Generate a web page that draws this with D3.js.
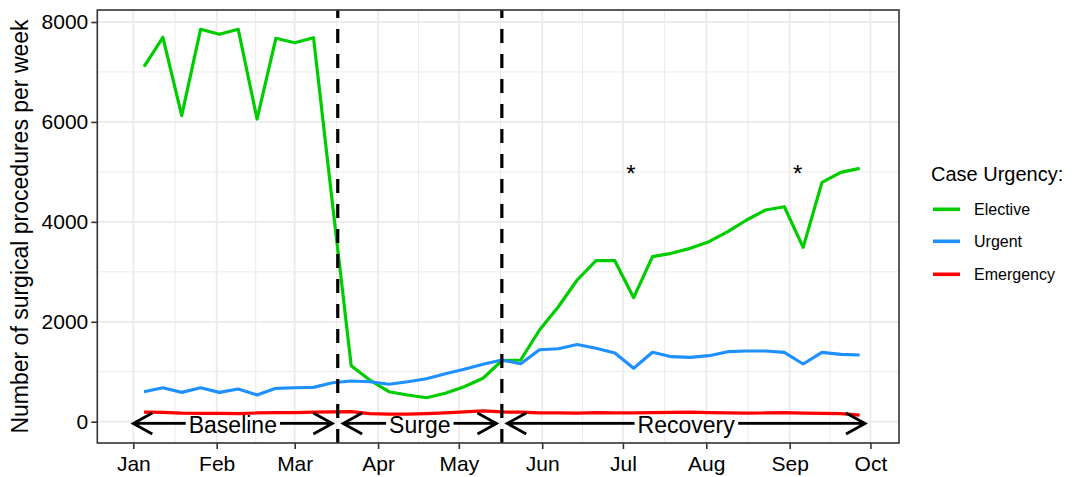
<!DOCTYPE html>
<html>
<head>
<meta charset="utf-8">
<style>

html, body {
  margin: 0;
  background: #fff;
  overflow: hidden;
}

text {
  font-family: "Liberation Sans", Arial, sans-serif;
}

.grid line {
  stroke: #ebebeb;
}

.grid .major {
  stroke-width: 1.8px;
}

.grid .minor {
  stroke-width: 1px;
}

.axis .domain {
  display: none;
}

.axis line {
  stroke: #333;
  stroke-width: 1.6px;
}

.axis text {
  font-size: 21px;
  fill: #000;
}

.series path {
  fill: none;
  stroke-width: 3.2px;
  stroke-linejoin: round;
}

</style>
<script src="https://cdn.jsdelivr.net/npm/d3@7"></script>
</head>
<body>
<svg width="1075" height="477"></svg>
<script>

// weekly counts, weeks starting Sunday Jan 5 2020 through Sep 27 2020
var weeks = d3.timeWeek.range(new Date(2020, 0, 5), new Date(2020, 8, 28));

var elective = [7105, 7694, 6125, 7854, 7754, 7854, 6058, 7674, 7586, 7686,
                4380, 1121, 830, 600, 534, 480, 570, 700, 869, 1221,
                1235, 1835, 2300, 2836, 3222, 3222, 2482, 3303, 3370, 3470,
                3603, 3803, 4037, 4237, 4303, 3490, 4791, 4991, 5071];

var urgent = [600, 680, 588, 680, 588, 654, 534, 668, 680, 688,
              780, 815, 800, 750, 800, 860, 960, 1049, 1150, 1235,
              1160, 1440, 1460, 1545, 1469, 1375, 1069, 1389, 1301, 1289,
              1321, 1401, 1415, 1415, 1389, 1155, 1389, 1349, 1335];

var emergency = [190, 185, 170, 165, 165, 160, 175, 180, 180, 190,
                 195, 200, 160, 150, 150, 160, 175, 195, 215, 195,
                 190, 175, 175, 170, 180, 175, 175, 180, 185, 190,
                 180, 175, 170, 175, 180, 170, 165, 160, 130];

var seriesNames = ["Elective", "Urgent", "Emergency"];
var seriesColors = ["#00cd00", "#1e90ff", "#ff0000"];

var phaseNames = ["Baseline", "Surge", "Recovery"];
var phaseStart = [new Date(2020, 0, 1), new Date(2020, 2, 19), new Date(2020, 4, 19)];
var phaseEnd = [new Date(2020, 2, 15), new Date(2020, 4, 15), new Date(2020, 8, 29)];
var phaseY = -35;

var cutDates = [new Date(2020, 2, 17), new Date(2020, 4, 17)];

var starDates = [new Date(2020, 6, 4), new Date(2020, 8, 4)];
var starY = 5000;

var yTicks = [0, 2000, 4000, 6000, 8000];
var yMinor = [1000, 3000, 5000, 7000];

var svg = d3.select("svg");

var panel = {left: 97.3, right: 899, top: 10, bottom: 443};

var x = d3.scaleTime()
    .domain([new Date(2020, 0, 1), new Date(2020, 9, 1)])
    .range([133.3, 870.4]);

var y = d3.scaleLinear()
    .domain([0, 8000])
    .range([421.7, 22]);

var months = d3.timeMonth.range(new Date(2020, 0, 1), new Date(2020, 9, 2));
var monthMinor = [];
for (var i = 1; i < months.length; i++) {
  monthMinor.push(new Date((months[i - 1].getTime() + months[i].getTime()) / 2));
}

// panel background + grid
svg.append("rect")
    .attr("x", panel.left).attr("y", panel.top)
    .attr("width", panel.right - panel.left)
    .attr("height", panel.bottom - panel.top)
    .attr("fill", "#fff");

var grid = svg.append("g").attr("class", "grid");

grid.selectAll("line.ymin")
    .data(yMinor)
    .enter().append("line")
      .attr("class", "minor")
      .attr("x1", panel.left).attr("x2", panel.right)
      .attr("y1", d => y(d)).attr("y2", d => y(d));

grid.selectAll("line.xmin")
    .data(monthMinor)
    .enter().append("line")
      .attr("class", "minor")
      .attr("y1", panel.top).attr("y2", panel.bottom)
      .attr("x1", d => x(d)).attr("x2", d => x(d));

grid.selectAll("line.ymaj")
    .data(yTicks)
    .enter().append("line")
      .attr("class", "major")
      .attr("x1", panel.left).attr("x2", panel.right)
      .attr("y1", d => y(d)).attr("y2", d => y(d));

grid.selectAll("line.xmaj")
    .data(months)
    .enter().append("line")
      .attr("class", "major")
      .attr("y1", panel.top).attr("y2", panel.bottom)
      .attr("x1", d => x(d)).attr("x2", d => x(d));

// series
var line = d3.line()
    .x((d, i) => x(weeks[i]))
    .y(d => y(d));

svg.append("g")
    .attr("class", "series")
  .selectAll("path")
  .data([elective, urgent, emergency])
  .enter().append("path")
    .attr("d", line)
    .attr("stroke", (d, i) => seriesColors[i]);

// dashed phase cuts, drawn bottom to top like ggplot
svg.append("g")
  .selectAll("line")
  .data(cutDates)
  .enter().append("line")
    .attr("x1", d => x(d)).attr("x2", d => x(d))
    .attr("y1", panel.bottom).attr("y2", panel.top)
    .attr("stroke", "#000")
    .attr("stroke-width", 3.2)
    .attr("stroke-dasharray", "14,11");

// phase arrows
var arrows = svg.append("g")
    .attr("fill", "none")
    .attr("stroke", "#000")
    .attr("stroke-width", 2.8);

var head = function(px, py, dir) {
  var hl = 19, hw = 10.5;
  return "M" + (px + dir * hl) + "," + (py - hw) + "L" + px + "," + py + "L" + (px + dir * hl) + "," + (py + hw);
};

phaseNames.forEach(function(name, i) {
  var x0 = x(phaseStart[i]), x1 = x(phaseEnd[i]), py = y(phaseY);
  arrows.append("path")
      .attr("d", "M" + x0 + "," + py + "L" + x1 + "," + py + head(x0, py, 1) + head(x1, py, -1));
});

var labels = svg.append("g");
phaseNames.forEach(function(name, i) {
  var cx = x(new Date((phaseStart[i].getTime() + phaseEnd[i].getTime()) / 2));
  var g = labels.append("g");
  var t = g.append("text")
      .attr("x", cx)
      .attr("y", y(phaseY) + 9.5)
      .attr("text-anchor", "middle")
      .attr("font-size", 23)
      .attr("fill", "#000")
      .text(name);
  var bb = t.node().getBBox();
  g.insert("rect", "text")
      .attr("x", bb.x - 3).attr("y", y(phaseY) - 6)
      .attr("width", bb.width + 6).attr("height", 14)
      .attr("fill", "#fff");
});

// holiday asterisks
svg.append("g")
  .selectAll("text")
  .data(starDates)
  .enter().append("text")
    .attr("x", d => x(d))
    .attr("y", y(starY) + 10)
    .attr("text-anchor", "middle")
    .attr("font-size", 24)
    .attr("fill", "#000")
    .text("*");

// panel border
svg.append("rect")
    .attr("x", panel.left).attr("y", panel.top)
    .attr("width", panel.right - panel.left)
    .attr("height", panel.bottom - panel.top)
    .attr("fill", "none")
    .attr("stroke", "#333")
    .attr("stroke-width", 1.6);

// axes
svg.append("g")
    .attr("class", "axis")
    .attr("transform", "translate(" + panel.left + ",0)")
    .call(d3.axisLeft(y).tickValues(yTicks).tickSize(6).tickPadding(3).tickFormat(d3.format("d")));

svg.append("g")
    .attr("class", "axis")
    .attr("transform", "translate(0," + panel.bottom + ")")
    .call(d3.axisBottom(x).tickValues(months).tickSize(6).tickPadding(7).tickFormat(d3.timeFormat("%b")));

svg.append("text")
    .attr("transform", "translate(28," + ((panel.top + panel.bottom) / 2) + ") rotate(-90)")
    .attr("text-anchor", "middle")
    .attr("font-size", 23)
    .attr("fill", "#000")
    .text("Number of surgical procedures per week");

// legend
var legend = svg.append("g").attr("transform", "translate(931,0)");

legend.append("text")
    .attr("x", 0).attr("y", 181)
    .attr("font-size", 20)
    .attr("fill", "#000")
    .text("Case Urgency:");

var item = legend.selectAll("g.item")
    .data(seriesNames)
    .enter().append("g")
      .attr("class", "item")
      .attr("transform", (d, i) => "translate(0," + [209.3, 241.3, 274.3][i] + ")");

item.append("line")
    .attr("x1", 2).attr("x2", 29)
    .attr("stroke", (d, i) => seriesColors[i])
    .attr("stroke-width", 3.6);

item.append("text")
    .attr("x", 43).attr("y", 5.5)
    .attr("font-size", 16)
    .attr("fill", "#000")
    .text(d => d);

</script>
</body>
</html>
